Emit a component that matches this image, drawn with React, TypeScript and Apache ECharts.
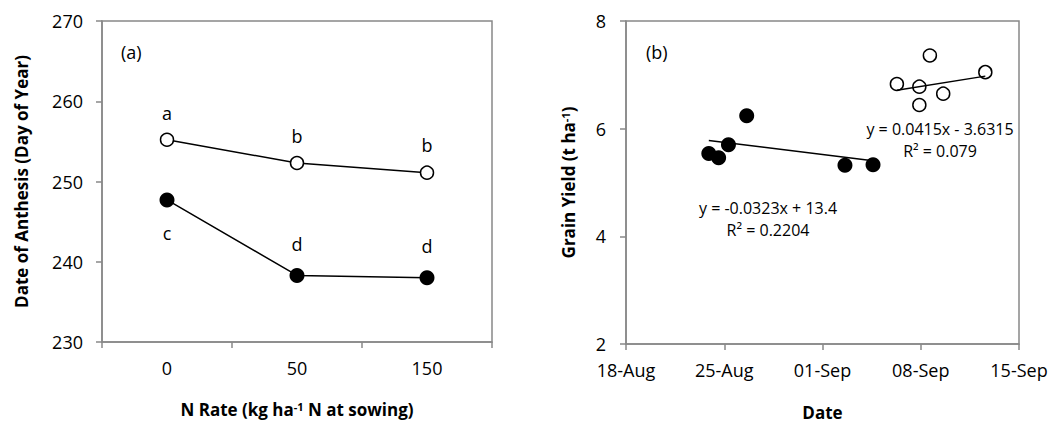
import React, { useEffect, useRef } from 'react';
import * as echarts from 'echarts';

// Panel (a): date of anthesis by N rate
const nRates = ['0', '50', '150'];
const anthesisLate = [255.2, 252.3, 251.1];
const anthesisEarly = [247.7, 238.3, 238.0];
const lettersLate = ['a', 'b', 'b'];
const lettersEarly = ['c', 'd', 'd'];

// Panel (b): grain yield against anthesis date (day of year)
const dateTicks = [230, 237, 244, 251, 258];
const dateTickLabels = ['18-Aug', '25-Aug', '01-Sep', '08-Sep', '15-Sep'];
const earlyDates = [235.9, 236.6, 237.3, 238.6, 245.6, 247.6];
const earlyYield = [5.54, 5.46, 5.7, 6.24, 5.32, 5.33];
const lateDates = [249.3, 250.9, 251.65, 250.9, 252.6, 255.6];
const lateYield = [6.83, 6.78, 7.36, 6.44, 6.65, 7.05];

// Linear fits: [early, late]
const fitSlopes = [-0.0323, 0.0415];
const fitIntercepts = [13.4, -3.6315];
const fitR2 = ['0.2204', '0.079'];

const FONT = '"Open Sans", "Noto Sans", sans-serif';
const AXIS_GREY = '#888888';

const fitLine = (xs: number[], i: number) => {
  const lo = Math.min(...xs);
  const hi = Math.max(...xs);
  return [lo, hi].map((x) => [x, fitSlopes[i] * x + fitIntercepts[i]]);
};

const equation = (i: number) => {
  const b = fitIntercepts[i];
  return `y = ${fitSlopes[i]}x ${b < 0 ? '-' : '+'} ${Math.abs(b)}`;
};

export default function App() {
  const ref = useRef<HTMLDivElement>(null);

  useEffect(() => {
    if (!ref.current) return;
    const chart = echarts.init(ref.current, undefined, { renderer: 'svg' });

    const tickLabel = { color: '#000', fontSize: 18, fontFamily: FONT };
    const axisLine = { show: true, lineStyle: { color: AXIS_GREY, width: 1.5 } };
    const axisTick = { show: true, length: 6, lineStyle: { color: AXIS_GREY, width: 1.5 } };
    const nameStyle = {
      color: '#000',
      fontSize: 17,
      fontWeight: 'bold',
      fontFamily: FONT,
      rich: {
        sup: { fontSize: 11, fontWeight: 'bold', fontFamily: FONT, color: '#000', verticalAlign: 'top', lineHeight: 11 },
      },
    };

    const txt = (text: string, x: number, y: number, size: number, align = 'center') => ({
      type: 'text',
      x,
      y,
      style: {
        text,
        fill: '#000',
        font: `${size}px ${FONT}`,
        textAlign: align,
        textVerticalAlign: 'middle',
      },
    });

    chart.setOption({
      animation: false,
      backgroundColor: '#fff',
      grid: [
        { left: 102, top: 21, width: 390, height: 321, show: true, borderColor: AXIS_GREY, borderWidth: 1.5 },
        { left: 626, top: 21, width: 393, height: 323, show: true, borderColor: AXIS_GREY, borderWidth: 1.5 },
      ],
      xAxis: [
        {
          type: 'category',
          gridIndex: 0,
          data: nRates,
          boundaryGap: true,
          axisLine,
          axisTick: { ...axisTick, alignWithLabel: false },
          axisLabel: { ...tickLabel, margin: 17 },
          name: 'N Rate (kg ha{sup|-1} N at sowing)',
          nameLocation: 'middle',
          nameGap: 59,
          nameTextStyle: nameStyle,
        },
        {
          type: 'value',
          gridIndex: 1,
          min: 230,
          max: 258,
          splitLine: { show: false },
          axisLine,
          axisTick: { ...axisTick, customValues: dateTicks },
          axisLabel: {
            ...tickLabel,
            margin: 17,
            customValues: dateTicks,
            formatter: (v: number) => dateTickLabels[dateTicks.indexOf(Math.round(v))] ?? '',
          },
          name: 'Date',
          nameLocation: 'middle',
          nameGap: 60,
          nameTextStyle: nameStyle,
        },
      ],
      yAxis: [
        {
          type: 'value',
          gridIndex: 0,
          min: 230,
          max: 270,
          interval: 10,
          splitLine: { show: false },
          axisLine,
          axisTick,
          axisLabel: { ...tickLabel, margin: 19 },
          name: 'Date of Anthesis (Day of Year)',
          nameLocation: 'middle',
          nameGap: 72,
          nameTextStyle: nameStyle,
        },
        {
          type: 'value',
          gridIndex: 1,
          min: 2,
          max: 8,
          interval: 2,
          splitLine: { show: false },
          axisLine,
          axisTick,
          axisLabel: { ...tickLabel, margin: 20 },
          name: 'Grain Yield (t ha{sup|-1})',
          nameLocation: 'middle',
          nameGap: 49,
          nameTextStyle: nameStyle,
        },
      ],
      series: [
        {
          type: 'line',
          xAxisIndex: 0,
          yAxisIndex: 0,
          data: anthesisLate,
          symbol: 'circle',
          symbolSize: 13,
          itemStyle: { color: '#fff', borderColor: '#000', borderWidth: 1.5 },
          lineStyle: { color: '#000', width: 1.5 },
          label: {
            show: true,
            position: 'top',
            distance: 11,
            color: '#000',
            fontSize: 18,
            fontFamily: FONT,
            formatter: (p: any) => lettersLate[p.dataIndex],
          },
        },
        {
          type: 'line',
          xAxisIndex: 0,
          yAxisIndex: 0,
          data: anthesisEarly,
          symbol: 'circle',
          symbolSize: 15,
          itemStyle: { color: '#000', borderColor: '#000', borderWidth: 0 },
          lineStyle: { color: '#000', width: 1.5 },
          label: {
            show: true,
            position: 'top',
            distance: 15,
            color: '#000',
            fontSize: 18,
            fontFamily: FONT,
            formatter: (p: any) => lettersEarly[p.dataIndex],
          },
          labelLayout: (p: any) =>
            p.dataIndex === 0
              ? { y: p.rect.y + p.rect.height / 2 + 33, verticalAlign: 'middle', align: 'center' }
              : {},
        },
        {
          type: 'scatter',
          xAxisIndex: 1,
          yAxisIndex: 1,
          data: earlyDates.map((d, i) => [d, earlyYield[i]]),
          symbol: 'circle',
          symbolSize: 15,
          itemStyle: { color: '#000', opacity: 1 },
          z: 2,
        },
        {
          type: 'scatter',
          xAxisIndex: 1,
          yAxisIndex: 1,
          data: lateDates.map((d, i) => [d, lateYield[i]]),
          symbol: 'circle',
          symbolSize: 13,
          itemStyle: { color: '#fff', borderColor: '#000', borderWidth: 1.5, opacity: 1 },
          z: 2,
        },
        {
          type: 'line',
          xAxisIndex: 1,
          yAxisIndex: 1,
          data: fitLine(earlyDates, 0),
          symbol: 'none',
          lineStyle: { color: '#000', width: 1.5 },
          z: 3,
        },
        {
          type: 'line',
          xAxisIndex: 1,
          yAxisIndex: 1,
          data: fitLine(lateDates, 1),
          symbol: 'none',
          lineStyle: { color: '#000', width: 1.5 },
          z: 3,
        },
      ],
      graphic: [
        txt('(a)', 121, 52, 18, 'left'),
        txt('(b)', 646, 52, 18, 'left'),
        txt(equation(0), 768, 208, 16),
        txt(`R² = ${fitR2[0]}`, 768, 230, 16),
        txt(equation(1), 940, 129, 16),
        txt(`R² = ${fitR2[1]}`, 940, 151, 16),
      ],
    });

    return () => chart.dispose();
  }, []);

  return (
    <div
      ref={ref}
      style={{ position: 'fixed', left: 0, top: 0, width: 1058, height: 426, background: '#fff' }}
    />
  );
}
